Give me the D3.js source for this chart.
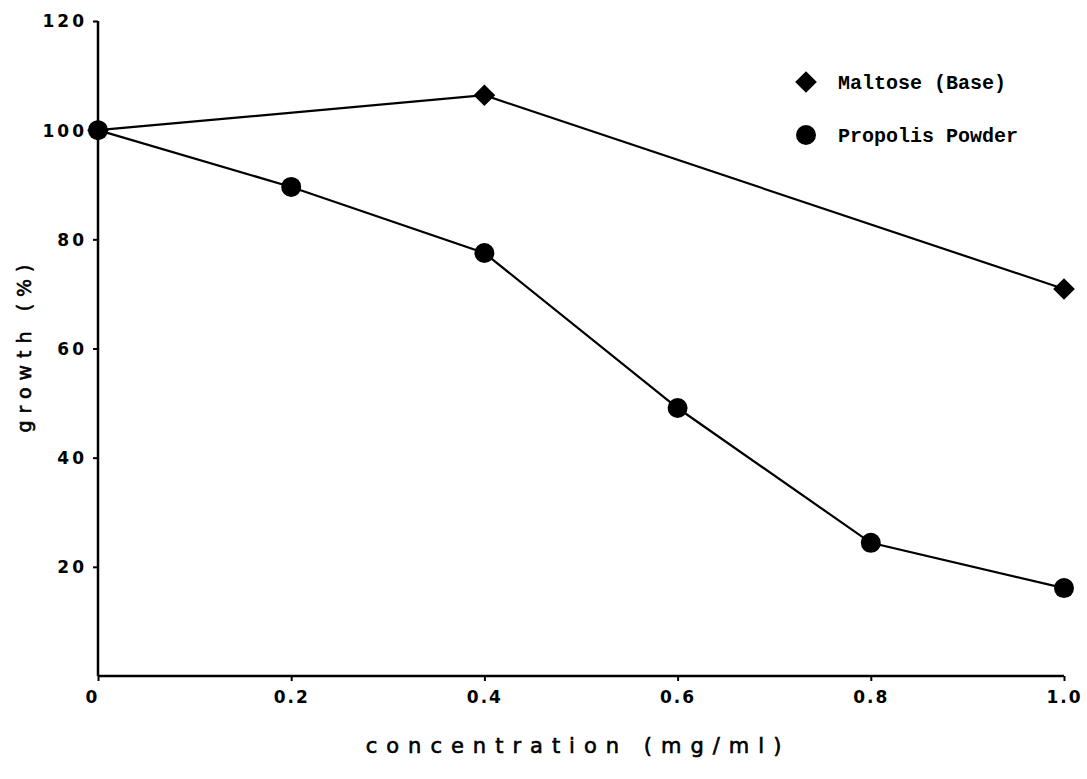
<!DOCTYPE html>
<html>
<head>
<meta charset="utf-8">
<script src="https://cdn.jsdelivr.net/npm/d3@7"></script>
<style>
  body { margin: 0; background: #fff; }
  .tick text { font-family: "DejaVu Sans", sans-serif; font-weight: bold; }
</style>
</head>
<body>
<div id="chart"></div>
<script>
// concentration (mg/ml)
var concMaltose = [0, 0.4, 1.0];
var growthMaltose = [100, 106.4, 70.9];
var concPropolis = [0, 0.2, 0.4, 0.6, 0.8, 1.0];
var growthPropolis = [100, 89.6, 77.5, 49.1, 24.4, 16.1];
var xTicks = [0, 0.2, 0.4, 0.6, 0.8, 1.0];
var xTickLabels = ["0", "0.2", "0.4", "0.6", "0.8", "1.0"];
var yTicks = [20, 40, 60, 80, 100, 120];
var seriesNames = ["Maltose (Base)", "Propolis Powder"];

var W = 1087, H = 779;
var svg = d3.select("#chart").append("svg")
  .attr("width", W).attr("height", H);

var x = d3.scaleLinear().domain([0, 1]).range([98, 1064]);
var y = d3.scaleLinear().domain([0, 120]).range([676, 21]);

// y axis
var yAxis = d3.axisLeft(y).tickValues(yTicks).tickSize(5).tickPadding(6);
var gy = svg.append("g").attr("transform", "translate(98,0)").call(yAxis);
gy.select(".domain").remove();
gy.append("line").attr("x1", 0).attr("x2", 0).attr("y1", y(120)).attr("y2", y(0))
  .attr("stroke", "#000").attr("stroke-width", 2.5);
gy.selectAll(".tick line").attr("stroke", "#000").attr("stroke-width", 2);
gy.selectAll(".tick text").attr("fill", "#000").style("font-size", "17px")
  .style("letter-spacing", "3px").attr("dy", "0.35em");

// x axis
var xAxis = d3.axisBottom(x).tickValues(xTicks)
  .tickFormat(function(d, i) { return xTickLabels[i]; }).tickSize(5).tickPadding(10);
var gx = svg.append("g").attr("transform", "translate(0,676)").call(xAxis);
gx.select(".domain").remove();
gx.append("line").attr("x1", x(0)).attr("x2", x(1)).attr("y1", 0).attr("y2", 0)
  .attr("stroke", "#000").attr("stroke-width", 2.5);
gx.selectAll(".tick line").attr("stroke", "#000").attr("stroke-width", 2);
gx.selectAll(".tick text").attr("fill", "#000").style("font-size", "17px")
  .style("letter-spacing", "2px");
gx.selectAll(".tick").filter(function(d) { return d === 0; }).select("text").attr("dx", "-6");

// axis titles
svg.append("text")
  .attr("x", 578).attr("y", 753)
  .attr("text-anchor", "middle")
  .style("font-family", "DejaVu Sans, sans-serif")
  .style("font-size", "21px")
  .style("letter-spacing", "9px")
  .attr("stroke", "#000").attr("stroke-width", 0.6)
  .text("concentration (mg/ml)");

svg.append("text")
  .attr("transform", "translate(31,345) rotate(-90)")
  .attr("text-anchor", "middle")
  .style("font-family", "DejaVu Sans, sans-serif")
  .style("font-size", "19px")
  .style("letter-spacing", "7px")
  .attr("stroke", "#000").attr("stroke-width", 0.6)
  .text("growth (%)");

var line = d3.line().x(function(d) { return x(d[0]); }).y(function(d) { return y(d[1]); });

var maltose = concMaltose.map(function(c, i) { return [c, growthMaltose[i]]; });
var propolis = concPropolis.map(function(c, i) { return [c, growthPropolis[i]]; });

svg.append("path").datum(maltose).attr("d", line)
  .attr("fill", "none").attr("stroke", "#000").attr("stroke-width", 2.2);
svg.append("path").datum(propolis).attr("d", line)
  .attr("fill", "none").attr("stroke", "#000").attr("stroke-width", 2.2);

var diamond = d3.symbol().type(d3.symbolDiamond2).size(300);

svg.selectAll(".dia").data(maltose).enter().append("path")
  .attr("class", "dia")
  .attr("d", diamond)
  .attr("transform", function(d) { return "translate(" + x(d[0]) + "," + y(d[1]) + ")"; })
  .attr("fill", "#000");

svg.selectAll(".dot").data(propolis).enter().append("circle")
  .attr("class", "dot")
  .attr("cx", function(d) { return x(d[0]); })
  .attr("cy", function(d) { return y(d[1]); })
  .attr("r", 10)
  .attr("fill", "#000");

// legend
var leg = svg.append("g");
leg.append("path").attr("d", diamond).attr("transform", "translate(806,82)").attr("fill", "#000");
leg.append("circle").attr("cx", 806).attr("cy", 135).attr("r", 10).attr("fill", "#000");
leg.selectAll("text").data(seriesNames).enter().append("text")
  .attr("x", 838)
  .attr("y", function(d, i) { return 89 + i * 53; })
  .style("font-family", "Liberation Mono, monospace")
  .style("font-size", "20px")
  .style("font-weight", "bold")
  .text(function(d) { return d; });
</script>
</body>
</html>
